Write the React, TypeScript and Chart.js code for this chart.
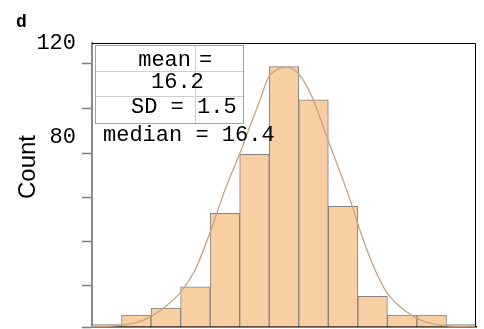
import React, { useEffect, useRef } from "react";
import { Chart, registerables } from "chart.js";

Chart.register(...registerables);

// Histogram bins (centres) and their counts
const binCenters = [10.5, 11.5, 12.5, 13.5, 14.5, 15.5, 16.5, 17.5, 18.5, 19.5, 20.5, 21.5, 22.5];
const counts = [1, 5, 8, 17, 48, 73, 110, 96, 51, 13, 5, 5, 1];

// Fitted normal curve, sampled along the x range
const fitX = [10.0, 10.68, 11.46, 11.96, 12.47, 12.98, 13.49, 13.99, 14.5, 15.01, 15.35, 15.69, 15.96, 16.3, 16.53, 16.97, 17.45, 17.99, 18.5, 18.84, 19.0, 19.51, 19.99, 20.66, 21.1, 21.78, 23.0];
const fitY = [0.2, 0.4, 1.7, 4.2, 8.5, 14.4, 24.1, 39.7, 57.9, 73.5, 84.9, 95.9, 105.2, 109.0, 109.8, 107.3, 97.2, 79.0, 62.0, 50.0, 43.5, 26.2, 14.4, 6.3, 3.0, 0.8, 0.0];

// Y axis: labelled values and unlabelled tick marks
const yLabelValues = [120, 80];
const yTickMarks = [0, 17.7, 36.3, 54.9, 73.5, 92.5, 111.5];

const panelLetter = "d";
const yTitle = "Count";
const meanText = "16.2";
const sdText = "1.5";
const medianText = "median = 16.4";

const MONO = '"Liberation Mono", "Courier New", monospace';

const decorations = {
  id: "decorations",
  afterDraw(chart: any) {
    const { ctx, chartArea: a } = chart;
    ctx.save();

    // top and right frame
    ctx.strokeStyle = "#000";
    ctx.lineWidth = 1;
    ctx.beginPath();
    ctx.moveTo(a.left, a.top + 0.5);
    ctx.lineTo(a.right - 0.5, a.top + 0.5);
    ctx.lineTo(a.right - 0.5, a.bottom);
    ctx.stroke();

    // stats table
    const bx = 95.5, by = 45.5, bw = 148, bh = 78;
    ctx.strokeStyle = "#cfcfcf";
    ctx.lineWidth = 1;
    ctx.beginPath();
    ctx.moveTo(bx, 71.5); ctx.lineTo(bx + bw, 71.5);
    ctx.moveTo(bx, 96.5); ctx.lineTo(bx + bw, 96.5);
    ctx.moveTo(195.5, by); ctx.lineTo(195.5, by + bh);
    ctx.stroke();
    ctx.strokeStyle = "#444";
    ctx.setLineDash([1, 1]);
    ctx.strokeRect(bx, by, bw, bh);
    ctx.setLineDash([]);

    ctx.fillStyle = "#000";
    ctx.font = `22px ${MONO}`;
    ctx.textBaseline = "alphabetic";
    ctx.textAlign = "right";
    ctx.fillText("mean", 191, 66);
    ctx.textAlign = "left";
    ctx.fillText("=", 199, 66);
    ctx.fillText(meanText, 151, 88);
    ctx.fillText("SD =", 131, 113);
    ctx.fillText(sdText, 197, 113);
    ctx.fillText(medianText, 103, 141);

    // panel letter
    ctx.font = `bold 18px ${MONO}`;
    ctx.fillText(panelLetter, 16, 27);

    // y axis title
    ctx.translate(35, 167);
    ctx.rotate(-Math.PI / 2);
    ctx.textAlign = "center";
    ctx.font = '24px "Liberation Sans", Arial, sans-serif';
    ctx.fillText(yTitle, 0, 0);

    ctx.restore();
  },
};

export default function App() {
  const ref = useRef<HTMLCanvasElement>(null);

  useEffect(() => {
    const chart = new Chart(ref.current!, {
      type: "bar",
      data: {
        datasets: [
          {
            type: "line",
            data: fitX.map((x, i) => ({ x, y: fitY[i] })),
            borderColor: "rgb(200, 163, 127)",
            borderWidth: 1.3,
            pointRadius: 0,
            cubicInterpolationMode: "monotone",
            fill: false,
            order: 0,
          } as any,
          {
            type: "bar",
            data: binCenters.map((x, i) => ({ x, y: counts[i] })),
            backgroundColor: "rgb(248, 207, 163)",
            borderColor: "rgb(130, 130, 130)",
            borderWidth: 1,
            barPercentage: 1,
            categoryPercentage: 1,
            order: 1,
          } as any,
        ],
      },
      options: {
        animation: false,
        responsive: false,
        devicePixelRatio: 1,
        layout: { padding: { left: 0, top: 43, right: 8, bottom: 2 } },
        plugins: { legend: { display: false }, tooltip: { enabled: false } },
        scales: {
          x: {
            type: "linear",
            min: 10,
            max: 23,
            offset: false,
            afterFit: (s: any) => { s.height = 0; s.paddingLeft = 0; s.paddingRight = 0; },
            ticks: { display: false, stepSize: 1 },
            grid: { display: false, drawTicks: false },
            border: { display: true, color: "#000", width: 1.5 },
          },
          y: {
            min: 0,
            max: 120,
            afterFit: (s: any) => { s.width = 92; s.paddingTop = 0; s.paddingBottom = 0; },
            afterBuildTicks: (s: any) => {
              s.ticks = [...yTickMarks, ...yLabelValues]
                .sort((p, q) => p - q)
                .map((v) => ({ value: v }));
            },
            ticks: {
              autoSkip: false,
              padding: 6,
              color: "#000",
              font: { family: "Liberation Mono", size: 22 },
              callback: (v: any) => (yLabelValues.includes(Number(v)) ? String(v) : ""),
            },
            grid: {
              drawOnChartArea: false,
              drawTicks: true,
              tickLength: 10,
              tickWidth: 1.5,
              tickColor: (c: any) =>
                yLabelValues.includes(c.tick?.value) ? "rgba(0,0,0,0)" : "#7f7f7f",
            },
            border: { color: "#8a8a8a", width: 2 },
          },
        },
      },
      plugins: [decorations],
    });
    return () => chart.destroy();
  }, []);

  return (
    <div style={{ position: "fixed", left: 0, top: 0, width: 484, height: 329, background: "#fff" }}>
      <canvas ref={ref} width={484} height={329} style={{ display: "block" }} />
    </div>
  );
}
